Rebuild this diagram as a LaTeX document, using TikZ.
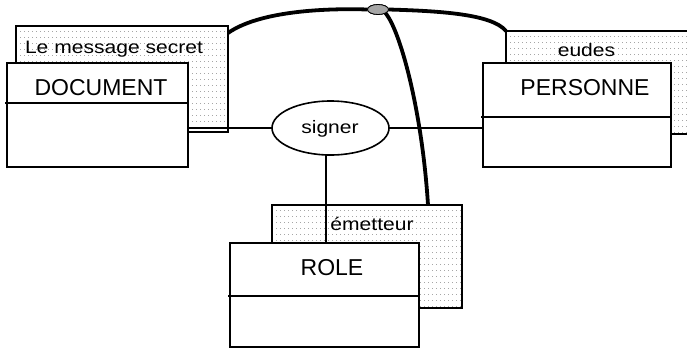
\documentclass[tikz,border=0pt]{standalone}
\usepackage{fontspec}
\setmainfont{Liberation Sans}
\newfontfamily\widefont[FakeStretch=1.17]{Liberation Sans}
\usetikzlibrary{calc,shapes.geometric}
\tikzset{
  plainbox/.style={draw, line width=1.6pt, fill=white, inner sep=0pt, outer sep=0pt},
  patbox/.style={plainbox, path picture={
      \foreach \yy in {0,6,...,126}
        \draw[gray!70, line width=0.6pt, dash pattern=on 1pt off 3pt]
          ([yshift=-\yy pt-5pt]path picture bounding box.north west) --
          ([yshift=-\yy pt-5pt]path picture bounding box.north east);}},
  bigtxt/.style={anchor=base, inner sep=0pt, font=\fontsize{23}{23}\selectfont},
  smalltxt/.style={anchor=base, inner sep=0pt, font=\widefont\fontsize{18}{18}\selectfont},
  conn/.style={line width=1.3pt},
  thick/.style={line width=3.8pt},
  divider/.style={line width=1.6pt}
}
\begin{document}
\begin{tikzpicture}[x=1pt,y=-1pt]
\useasboundingbox (0,0) rectangle (687,348);
\clip (0,0) rectangle (687,348);
% label (shadow) boxes
\node[patbox, minimum width=212, minimum height=106] (msg) at (122,79) {};
\node[patbox, minimum width=194, minimum height=103] (eud) at (603,82.5) {};
\node[patbox, minimum width=190, minimum height=103] (em) at (367,256.5) {};
% class boxes
\node[plainbox, minimum width=181, minimum height=104] (doc) at (97.5,115) {};
\node[plainbox, minimum width=188, minimum height=104] (pers) at (577,115) {};
\node[plainbox, minimum width=189, minimum height=104] (role) at (324.5,295) {};
% dividers
\draw[divider] ($(doc.north west)+(-2,40)$) -- ($(doc.north east)+(0,40)$);
\draw[divider] ($(pers.north west)+(-2,54)$) -- ($(pers.north east)+(0,54)$);
\draw[divider] ($(role.north west)+(-2,53)$) -- ($(role.north east)+(0,53)$);
% texts
\node[smalltxt] (tmsg) at (114,53) {Le message secret};
\node[smalltxt] (teud) at (586.5,56) {eudes};
\node[smalltxt] (tem) at (372,230.5) {émetteur};
\node[bigtxt] (tdoc) at (101,95) {DOCUMENT};
\node[bigtxt] (tpers) at (585,95) {PERSONNE};
\node[bigtxt] (trole) at (332,275) {ROLE};
% association
\node[draw, ellipse, line width=1.6pt, fill=white, inner sep=0pt, outer sep=0pt,
      minimum width=117, minimum height=54] (sig) at (330.5,128) {};
\node[smalltxt] (tsig) at (330,133.5) {signer};
% connectors
\draw[conn] (doc.east |- sig.west) -- (sig.west);
\draw[conn] (sig.east) -- (sig.east -| pers.west);
\path (sig.south) ++(-4.5,0) coordinate (vs);
\draw[conn] (vs) -- (vs |- role.north);
% constraint curves
\node[draw, ellipse, line width=0.8pt, fill=gray!70, inner sep=0pt, outer sep=0pt,
      minimum width=21, minimum height=10] (ov) at (378,9.5) {};
\draw[thick] ([yshift=-7pt]msg.north east) .. controls (258,12) and (320,8) .. (ov.west);
\draw[thick] (ov.east) .. controls (440,11) and (492,14) .. (eud.north west);
\draw[thick] (ov.south east) .. controls (400,30) and (422,110) .. ([xshift=61pt]em.north);
\node[draw, ellipse, line width=0.8pt, fill=gray!70, inner sep=0pt, outer sep=0pt,
      minimum width=21, minimum height=10] (ovtop) at (ov) {};
\end{tikzpicture}
\end{document}
